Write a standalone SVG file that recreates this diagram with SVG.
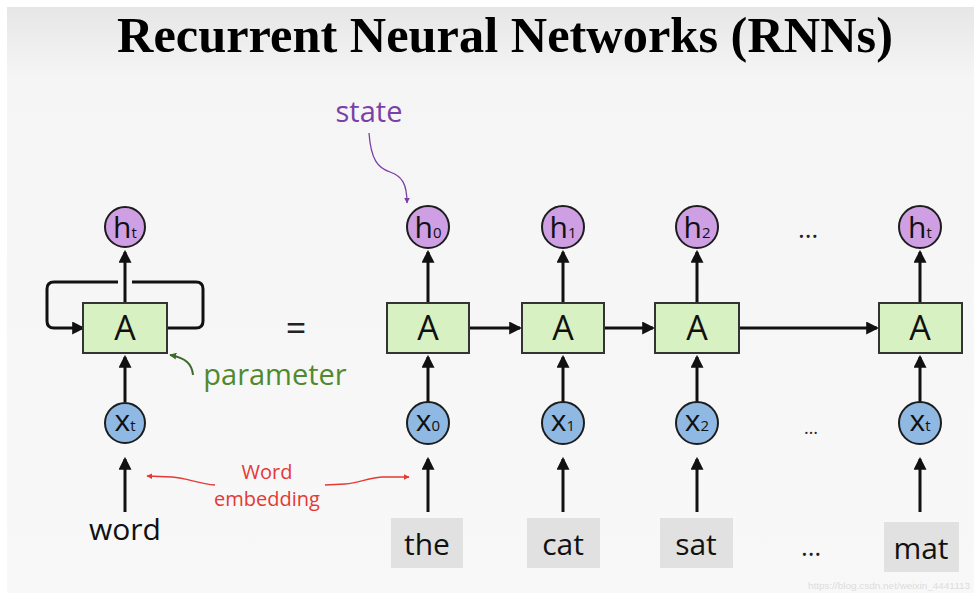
<svg xmlns="http://www.w3.org/2000/svg" width="974" height="593" viewBox="0 0 974 593">
<defs>
<linearGradient id="bg" x1="0" y1="0" x2="0" y2="1">
<stop offset="0" stop-color="#e6e6e6"/>
<stop offset="0.12" stop-color="#f5f5f5"/>
<stop offset="1" stop-color="#f8f8f8"/>
</linearGradient>
<marker id="ah" viewBox="0 0 12 12" refX="10" refY="6" markerWidth="13" markerHeight="13" markerUnits="userSpaceOnUse" orient="auto">
<path d="M0,0 L12,6 L0,12 z" fill="#111"/>
</marker>
<marker id="ahr" viewBox="0 0 10 10" refX="9" refY="5" markerWidth="6" markerHeight="6" markerUnits="userSpaceOnUse" orient="auto">
<path d="M0,0 L10,5 L0,10 z" fill="#e53935"/>
</marker>
<marker id="ahp" viewBox="0 0 10 10" refX="9" refY="5" markerWidth="6" markerHeight="6" markerUnits="userSpaceOnUse" orient="auto">
<path d="M0,0 L10,5 L0,10 z" fill="#7b3fa8"/>
</marker>
<marker id="ahg" viewBox="0 0 10 10" refX="9" refY="5" markerWidth="7" markerHeight="7" markerUnits="userSpaceOnUse" orient="auto">
<path d="M0,0 L10,5 L0,10 z" fill="#3f6b2a"/>
</marker>
</defs>
<style>
.t{font-family:"Open Sans","Liberation Sans",sans-serif;}
.hc{fill:#cf9fe3;stroke:#1d1d1d;stroke-width:2;}
.xc{fill:#8fb9e3;stroke:#1d1d1d;stroke-width:2;}
.box{fill:#d8f1c2;stroke:#333;stroke-width:2;}
.wb{fill:#e1e1e1;}
.lbl{font-family:"Open Sans","Liberation Sans",sans-serif;font-size:30px;fill:#111;text-anchor:middle;}
.sub{font-size:15px;}
.A{font-family:"Open Sans","Liberation Sans",sans-serif;font-size:34px;fill:#111;text-anchor:middle;}
.w{font-family:"Open Sans","Liberation Sans",sans-serif;font-size:30px;fill:#111;text-anchor:middle;}
.c{fill:none;stroke:#111;stroke-width:3;marker-end:url(#ah);}
.dots{font-family:"Open Sans","Liberation Sans",sans-serif;fill:#222;text-anchor:middle;}
</style>
<rect x="0" y="0" width="974" height="593" fill="#ffffff"/>
<rect x="7" y="7" width="967" height="586" fill="url(#bg)"/>
<text x="505" y="52" font-family="Liberation Serif,serif" font-weight="bold" font-size="50" fill="#000" text-anchor="middle" textLength="776" lengthAdjust="spacingAndGlyphs">Recurrent Neural Networks (RNNs)</text>

<g id="connectors">
<line class="c" x1="125" y1="303" x2="125" y2="252"/>
<line class="c" x1="125" y1="402" x2="125" y2="357"/>
<line class="c" x1="125" y1="512" x2="125" y2="459"/>
<path d="M167,328 H196 Q203,328 203,321 V289 Q203,282 196,282 H132" fill="none" stroke="#111" stroke-width="3"/>
<path class="c" d="M118,282 H54 Q47,282 47,289 V321 Q47,328 54,328 H83"/>
<line class="c" x1="428" y1="303" x2="428" y2="252"/>
<line class="c" x1="428" y1="402" x2="428" y2="357"/>
<line class="c" x1="428" y1="512" x2="428" y2="459"/>
<line class="c" x1="563" y1="303" x2="563" y2="252"/>
<line class="c" x1="563" y1="402" x2="563" y2="357"/>
<line class="c" x1="563" y1="512" x2="563" y2="459"/>
<line class="c" x1="697" y1="303" x2="697" y2="252"/>
<line class="c" x1="697" y1="402" x2="697" y2="357"/>
<line class="c" x1="697" y1="512" x2="697" y2="459"/>
<line class="c" x1="920" y1="303" x2="920" y2="252"/>
<line class="c" x1="920" y1="402" x2="920" y2="357"/>
<line class="c" x1="920" y1="512" x2="920" y2="459"/>
<line class="c" x1="469" y1="328" x2="520" y2="328"/>
<line class="c" x1="604" y1="328" x2="653" y2="328"/>
<line class="c" x1="739" y1="328" x2="877" y2="328"/>
<path d="M369,133 C371,160 378,168 390,172 C402,176 407,184 407,203" fill="none" stroke="#7b3fa8" stroke-width="1.3" marker-end="url(#ahp)"/>
<path d="M193,375 C192,364 186,358 170,355" fill="none" stroke="#3f6b2a" stroke-width="2" marker-end="url(#ahg)"/>
<path d="M215,485 C198,484 188,478 172,477 L147,476" fill="none" stroke="#e53935" stroke-width="1.3" marker-end="url(#ahr)"/>
<path d="M325,485 L345,484 C360,483 366,478 382,477 L409,477" fill="none" stroke="#e53935" stroke-width="1.3" marker-end="url(#ahr)"/>
</g>

<g id="ht_left"><circle class="hc" cx="125" cy="227" r="20"/><text class="lbl" x="125" y="238">h<tspan class="sub">t</tspan></text></g>
<g id="A_left"><rect class="box" x="83" y="303" width="84" height="50"/><text class="A" x="125" y="340">A</text></g>
<g id="xt_left"><circle class="xc" cx="125" cy="423" r="20"/><text class="lbl" x="125" y="431">x<tspan class="sub">t</tspan></text></g>
<g id="word"><text class="w" x="125" y="540">word</text></g>
<g id="equals"><text class="t" x="296" y="341" font-size="36" fill="#222" text-anchor="middle">=</text></g>
<g id="param"><text class="t" x="275" y="385" font-size="29" fill="#4f8a2f" text-anchor="middle">parameter</text></g>
<g id="state"><text class="t" x="369" y="122" font-size="29" fill="#7b3fa8" text-anchor="middle">state</text></g>
<g id="embed"><text class="t" x="267" y="479" font-size="20" fill="#e53935" text-anchor="middle">Word</text><text class="t" x="267" y="506" font-size="20" fill="#e53935" text-anchor="middle">embedding</text></g>

<g id="h0"><circle class="hc" cx="428" cy="227" r="21"/><text class="lbl" x="428" y="238">h<tspan class="sub">0</tspan></text></g>
<g id="h1"><circle class="hc" cx="563" cy="227" r="21"/><text class="lbl" x="563" y="238">h<tspan class="sub">1</tspan></text></g>
<g id="h2"><circle class="hc" cx="697" cy="227" r="21"/><text class="lbl" x="697" y="238">h<tspan class="sub">2</tspan></text></g>
<g id="ht"><circle class="hc" cx="920" cy="227" r="21"/><text class="lbl" x="920" y="238">h<tspan class="sub">t</tspan></text></g>

<g id="A0"><rect class="box" x="387" y="303" width="82" height="50"/><text class="A" x="428" y="340">A</text></g>
<g id="A1"><rect class="box" x="522" y="303" width="82" height="50"/><text class="A" x="563" y="340">A</text></g>
<g id="A2"><rect class="box" x="655" y="303" width="84" height="50"/><text class="A" x="697" y="340">A</text></g>
<g id="At"><rect class="box" x="879" y="303" width="83" height="50"/><text class="A" x="920" y="340">A</text></g>

<g id="x0"><circle class="xc" cx="428" cy="423" r="21"/><text class="lbl" x="428" y="431">x<tspan class="sub">0</tspan></text></g>
<g id="x1"><circle class="xc" cx="563" cy="423" r="21"/><text class="lbl" x="563" y="431">x<tspan class="sub">1</tspan></text></g>
<g id="x2"><circle class="xc" cx="697" cy="423" r="21"/><text class="lbl" x="697" y="431">x<tspan class="sub">2</tspan></text></g>
<g id="xt"><circle class="xc" cx="920" cy="423" r="21"/><text class="lbl" x="920" y="431">x<tspan class="sub">t</tspan></text></g>

<g id="w_the"><rect class="wb" x="391" y="518" width="72" height="50"/><text class="w" x="427" y="555">the</text></g>
<g id="w_cat"><rect class="wb" x="527" y="518" width="73" height="50"/><text class="w" x="563" y="555">cat</text></g>
<g id="w_sat"><rect class="wb" x="660" y="518" width="73" height="50"/><text class="w" x="696" y="555">sat</text></g>
<g id="w_mat"><rect class="wb" x="884" y="522" width="75" height="50"/><text class="w" x="921" y="559">mat</text></g>

<g id="dots_top"><text class="dots" x="808" y="238" font-size="26">…</text></g>
<g id="dots_mid"><text class="dots" x="811" y="434" font-size="18">…</text></g>
<g id="dots_bot"><text class="dots" x="811" y="556" font-size="26">…</text></g>

<text x="808" y="589" font-family="Liberation Sans,sans-serif" font-size="9" fill="#dcdcdc" textLength="162" lengthAdjust="spacingAndGlyphs">https://blog.csdn.net/weixin_4441113</text>
</svg>
